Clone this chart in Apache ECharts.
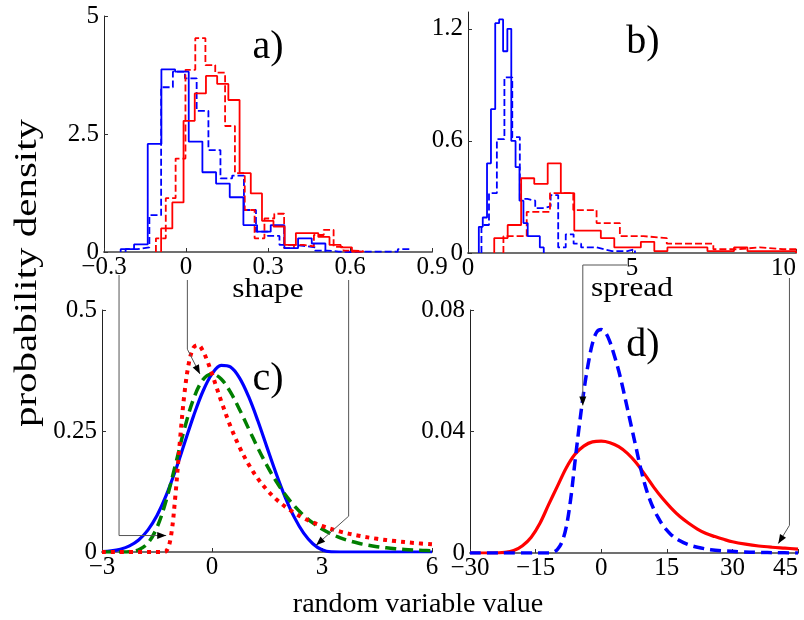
<!DOCTYPE html>
<html><head><meta charset="utf-8">
<script src="https://cdn.jsdelivr.net/npm/echarts@6/dist/echarts.min.js"></script>
<style>html,body{margin:0;padding:0;background:#fff}#c{width:804px;height:620px}</style>
</head><body><div id="c"></div>
<script>
// ---------- Panel a: shape histograms (bin edges, densities) ----------
const aBlueSolidEdges = [-0.239,-0.190,-0.140,-0.090,-0.040,0.010,0.060,0.110,0.160,0.210,0.260,0.310,0.360,0.410,0.460,0.510];
const aBlueSolidDens  = [0.06,0.16,2.29,3.87,3.82,2.34,1.69,1.45,1.16,0.57,0.43,0.57,0.08,0.29,0.18];
const aBlueDashEdges  = [-0.221,-0.178,-0.134,-0.091,-0.048,-0.004,0.039,0.082,0.126,0.169,0.212,0.256,0.299,0.342,0.386,0.429,0.472,0.515,0.559,0.602,0.645,0.689,0.732,0.775,0.818];
const aBlueDashDens   = [0.06,0.10,0.78,3.49,3.82,3.68,2.99,2.16,1.56,1.62,0.89,0.43,0.34,0.15,0.13,0.10,0.03,0.01,0.00,0.01,0.01,0.01,0.01,0.06];
const aRedSolidEdges  = [-0.091,-0.050,-0.009,0.032,0.073,0.114,0.155,0.196,0.237,0.278,0.320,0.361,0.402,0.443,0.484,0.525,0.566,0.607,0.648];
const aRedSolidDens   = [0.50,1.05,2.78,3.36,3.73,3.56,3.22,1.67,1.24,0.66,0.54,0.15,0.40,0.40,0.32,0.15,0.10,0.01];
const aRedDashEdges   = [-0.110,-0.074,-0.038,-0.002,0.034,0.071,0.107,0.143,0.179,0.215,0.251,0.287,0.323,0.359,0.395,0.431,0.468,0.504,0.540,0.576,0.612,0.648];
const aRedDashDens    = [0.29,1.14,1.98,3.86,4.53,3.96,3.80,2.67,1.67,0.89,0.29,0.71,0.81,0.08,0.15,0.12,0.36,0.47,0.11,0.03,0.02];

// ---------- Panel b: spread histograms ----------
const bBlueSolidEdges = [0.33,0.45,0.58,0.70,0.83,0.95,1.07,1.20,1.32,1.45,1.57,1.69,1.82,1.94,2.07,2.19,2.31];
const bBlueSolidDens  = [0.14,0.19,0.48,0.77,1.23,1.25,1.08,1.20,0.60,0.46,0.28,0.16,0.09,0.09,0.09,0.03];
const bBlueDashEdges  = [0.41,0.64,0.88,1.11,1.35,1.58,1.81,2.05,2.28,2.52,2.75,2.98,3.22,3.45,3.69,3.92,4.15,4.39,4.62,4.86,5.09];
const bBlueDashDens   = [0.15,0.32,0.61,0.94,0.62,0.29,0.28,0.24,0.25,0.31,0.03,0.10,0.05,0.03,0.03,0.02,0.01,0.01,0.01,0.02];
const bRedSolidEdges  = [0.80,1.21,1.62,2.02,2.43,2.83,3.24,3.65,4.05,4.46,4.86,5.27,5.68,6.08,6.49,6.89,7.30,7.71,8.11,8.52,8.93,9.33,9.74,10.0];
const bRedSolidDens   = [0.08,0.15,0.40,0.37,0.48,0.32,0.12,0.12,0.08,0.03,0.03,0.06,0.01,0.03,0.03,0.03,0.01,0.01,0.03,0.01,0.01,0.01,0.01];
const bRedDashEdges   = [1.08,1.79,2.50,3.21,3.92,4.63,5.35,6.06,6.77,7.48,8.19,8.90,9.61,10.0];
const bRedDashDens    = [0.09,0.22,0.32,0.23,0.16,0.09,0.08,0.05,0.05,0.02,0.03,0.02,0.02];

// ---------- Panel c: densities for three shape values ----------
const cX = [-3,-2.75,-2.5,-2.25,-2,-1.75,-1.5,-1.25,-1,-0.75,-0.5,-0.25,0,0.25,0.5,0.75,1,1.25,1.5,1.75,2,2.25,2.5,2.75,3,3.25,3.5,3.75,4,4.25,4.5,4.75,5,5.25,5.5,5.75,6];
const cBlue  = [0.0009,0.0024,0.0058,0.0126,0.0248,0.0452,0.0755,0.1168,0.1677,0.2246,0.2817,0.3316,0.3679,0.3856,0.3825,0.3598,0.3208,0.2711,0.2162,0.1620,0.1125,0.0710,0.0390,0.0171,0.0046,0.0002,0,0,0,0,0,0,0,0,0,0,0];
const cGreen = [0,0,0.0001,0.0007,0.0046,0.0182,0.0507,0.1065,0.1794,0.2549,0.3170,0.3556,0.3679,0.3574,0.3307,0.2945,0.2546,0.2151,0.1785,0.1460,0.1182,0.0949,0.0756,0.0600,0.0474,0.0373,0.0293,0.0230,0.0180,0.0141,0.0110,0.0086,0.0067,0.0052,0.0041,0.0032,0.0025];
const cRedX = [-3,-1.75,-1.5,-1.375,-1.25,-1.125,-1,-0.875,-0.75,-0.625,-0.5,-0.375,-0.25,-0.125,0,0.125,0.25,0.5,0.75,1,1.25,1.5,1.75,2,2.25,2.5,2.75,3,3.5,4,4.5,5,5.5,6];
const cRed  = [0,0,0,0,0.0017,0.0298,0.1151,0.2293,0.3284,0.3926,0.4228,0.4276,0.4157,0.3942,0.3679,0.3398,0.3120,0.2605,0.2167,0.1808,0.1517,0.1282,0.1090,0.0934,0.0805,0.0699,0.0611,0.0537,0.0420,0.0336,0.0273,0.0225,0.0187,0.0158];

// ---------- Panel d: densities for two spread values ----------
const dRedX = [-30,-25,-22,-20,-18,-16,-14,-12,-10,-8,-6,-4,-2,0,2,4,6,8,10,12,14,16,18,20,22,24,26,28,30,33,36,39,42,45];
const dRed  = [0,0,0.0002,0.0008,0.0024,0.0052,0.0098,0.0160,0.0220,0.0280,0.0325,0.0352,0.0366,0.0368,0.0363,0.0350,0.0328,0.0297,0.0258,0.0217,0.0180,0.0148,0.0120,0.0098,0.0079,0.0064,0.0054,0.0045,0.0037,0.0029,0.0023,0.0019,0.0016,0.0013];
const dBlueX = [-30,-12,-11,-10,-9,-8,-7,-6,-5,-4,-3,-2,-1,0,1,2,3,4,5,6,7,8,9,10,11,12,13,14,15,16,18,20,22,25,28,32,36,40,45];
const dBlue  = [0,0,0.0002,0.0012,0.0035,0.0085,0.0175,0.0300,0.0420,0.0530,0.0620,0.0690,0.0728,0.0736,0.0725,0.0695,0.0650,0.0600,0.0540,0.0475,0.0410,0.0345,0.0280,0.0225,0.0180,0.0145,0.0117,0.0093,0.0075,0.0060,0.0040,0.0027,0.0019,0.0011,0.0007,0.0004,0.0002,0.0001,0];

// ---------- Axis ticks ----------
const aXTicks = [-0.3, 0.9, 0.3];   // min, max, interval
const aYTicks = [0, 5, 2.5];
const bXTicks = [0, 10, 5];
const bYTicks = [0, 0.6, 1.2];
const bYMax = 1.29;
const cXTicks = [-3, 6, 3];
const cYTicks = [0, 0.5, 0.25];
const dXTicks = [-30, 45, 15];
const dYTicks = [0, 0.08, 0.04];

// ---------- Annotation anchors (data units) ----------
const shapeArrows = [
  { fromShape: -0.245, elbowY: 0.034, tip: [-1.25, 0.034] },
  { fromShape: 0.005,  elbowY: 0.419, tip: [-0.33, 0.368] },
  { fromShape: 0.595,  elbowY: 0.074, tip: [2.84, 0.014] }
];
const spreadArrows = [
  { startSpread: 4.85, fromSpread: 3.5, elbowY: 0.0486, tip: [-4.2, 0.0486] },
  { startSpread: null, fromSpread: 9.8, elbowY: 0.0091, tip: [40.5, 0.0031] }
];

const FONT = 'Liberation Serif';
const TICK_SIZE = 25;
function fmt(v) { const r = Math.round(v * 1e6) / 1e6; return (r < 0 ? '\u2212' : '') + Math.abs(r); }
function hist(edges, dens) {
  const pts = [[edges[0], 0]];
  for (let i = 0; i < dens.length; i++) pts.push([edges[i], dens[i]]);
  pts.push([edges[edges.length - 1], 0]);
  return pts;
}
function zip(xs, ys) { return xs.map((x, i) => [x, ys[i]]); }

function xAx(gi, t, extra) {
  return Object.assign({
    type: 'value', gridIndex: gi, min: t[0], max: t[1], interval: t[2],
    axisLine: { show: true, onZero: false, lineStyle: { color: '#707070', width: 2 } },
    axisTick: { show: true, inside: true, length: 4, lineStyle: { color: '#333', width: 1 } },
    axisLabel: { fontFamily: FONT, fontSize: TICK_SIZE, color: '#000', margin: 3, formatter: fmt },
    splitLine: { show: false }
  }, extra || {});
}
function yAx(gi, t, extra) {
  return Object.assign({
    type: 'value', gridIndex: gi, min: t[0], max: t[1], interval: t[2],
    axisLine: { show: true, onZero: false, lineStyle: { color: '#222', width: 1 } },
    axisTick: { show: true, inside: true, length: 4, lineStyle: { color: '#333', width: 1 } },
    axisLabel: { fontFamily: FONT, fontSize: TICK_SIZE, color: '#000', margin: 5, formatter: fmt },
    splitLine: { show: false }
  }, extra || {});
}
function histSeries(idx, edges, dens, color, dashed) {
  return { type: 'line', xAxisIndex: idx, yAxisIndex: idx, data: hist(edges, dens), step: 'end',
    showSymbol: false, symbol: 'none', silent: true,
    lineStyle: { color: color, width: 1.8, type: dashed ? [7, 3] : 'solid' } };
}
function curve(idx, xs, ys, color, width, type, z) {
  return { type: 'line', xAxisIndex: idx, yAxisIndex: idx, data: zip(xs, ys), smooth: 0.35,
    showSymbol: false, symbol: 'none', silent: true, z: z,
    lineStyle: { color: color, width: width, type: type, cap: 'butt', join: 'round' } };
}

const chart = echarts.init(document.getElementById('c'), null, { renderer: 'canvas' });
chart.setOption({
  animation: false,
  backgroundColor: '#fff',
  grid: [
    { left: 104, top: 16, width: 328, height: 236, outerBoundsMode: 'none' },
    { left: 468, top: 12, width: 328, height: 241, outerBoundsMode: 'none' },
    { left: 102, top: 310, width: 330, height: 242, outerBoundsMode: 'none' },
    { left: 470, top: 310, width: 328, height: 243, outerBoundsMode: 'none' }
  ],
  xAxis: [
    xAx(0, aXTicks),
    xAx(1, bXTicks, {}),
    xAx(2, cXTicks),
    xAx(3, dXTicks)
  ],
  yAxis: [
    yAx(0, aYTicks),
    yAx(1, [bYTicks[0], bYMax, null]),
    yAx(2, cYTicks),
    yAx(3, dYTicks)
  ],
  series: [
    histSeries(0, aBlueDashEdges, aBlueDashDens, '#0000ff', true),
    histSeries(0, aRedDashEdges, aRedDashDens, '#ff0000', true),
    histSeries(0, aBlueSolidEdges, aBlueSolidDens, '#0000ff', false),
    histSeries(0, aRedSolidEdges, aRedSolidDens, '#ff0000', false),
    histSeries(1, bBlueDashEdges, bBlueDashDens, '#0000ff', true),
    histSeries(1, bRedDashEdges, bRedDashDens, '#ff0000', true),
    histSeries(1, bBlueSolidEdges, bBlueSolidDens, '#0000ff', false),
    histSeries(1, bRedSolidEdges, bRedSolidDens, '#ff0000', false),
    curve(2, cX, cBlue, '#0000ff', 3.2, 'solid', 3),
    curve(2, cX, cGreen, '#007f00', 3.5, [11, 6], 4),
    curve(2, cRedX, cRed, '#ff0000', 4, [4, 5], 5),
    curve(3, dRedX, dRed, '#ff0000', 3.2, 'solid', 3),
    curve(3, dBlueX, dBlue, '#0000ff', 3.5, [11, 6], 4)
  ]
});
// b's y ticks at 0, 0.6, 1.2 only
chart.setOption({ yAxis: [{}, {
  axisLabel: { customValues: bYTicks }, axisTick: { customValues: bYTicks }
}, {}, {}], xAxis: [{}, { axisLabel: { alignMaxLabel: 'right' } }, {}, { axisLabel: { alignMaxLabel: 'right' } }] });

function px(i, pt) { return chart.convertToPixel({ xAxisIndex: i, yAxisIndex: i }, pt); }
function head(tip, from) {
  const dx = tip[0] - from[0], dy = tip[1] - from[1];
  const L = Math.hypot(dx, dy) || 1, ux = dx / L, uy = dy / L;
  const len = 9, w = 3.5;
  const bx = tip[0] - ux * len, by = tip[1] - uy * len;
  return { type: 'polygon', silent: true, z: 100,
    shape: { points: [tip, [bx - uy * w, by + ux * w], [bx + uy * w, by - ux * w]] },
    style: { fill: '#000', stroke: null } };
}
function poly(points) {
  return { type: 'polyline', silent: true, z: 99, shape: { points: points },
    style: { stroke: '#555', lineWidth: 1, fill: null } };
}
const g = [];
const aAxisY = px(0, [0, 0])[1];
shapeArrows.forEach((a, k) => {
  const x = px(0, [a.fromShape, 0])[0];
  const y0 = aAxisY + (k === 0 ? 23 : 28);
  const yE = px(2, [0, a.elbowY])[1];
  const tip = px(2, a.tip);
  g.push(poly([[x, y0], [x, yE], tip]));
  g.push(head(tip, [x, yE]));
});
const bAxisY = px(1, [0, 0])[1];
spreadArrows.forEach((a) => {
  const x = px(1, [a.fromSpread, 0])[0];
  const yE = px(3, [0, a.elbowY])[1];
  const tip = px(3, a.tip);
  if (a.startSpread !== null) {
    const xs = px(1, [a.startSpread, 0])[0];
    const y0 = bAxisY + 12;
    g.push(poly([[xs, y0], [x, y0], [x, yE]]));
    g.push(head([x, yE], [x, y0]));
  } else {
    const y0 = bAxisY + 25;
    g.push(poly([[x, y0], [x, yE], tip]));
    g.push(head(tip, [x, yE]));
  }
});
function txt(s, x, y, size, rot, sx) {
  return { type: 'text', x: x, y: y, rotation: rot || 0, scaleX: sx || 1, silent: true, z: 50,
    style: { text: s, fontFamily: FONT, fontSize: size, fill: '#000', align: 'center', verticalAlign: 'middle' } };
}
g.push(txt('a)', 268, 47, 40));
g.push(txt('b)', 643, 42, 40));
g.push(txt('c)', 268, 379, 40));
g.push(txt('d)', 643, 345, 40));
g.push(txt('shape', 268, 290, 28, 0, 1.12));
g.push(txt('spread', 632, 289, 28, 0, 1.12));
g.push(txt('random variable value', 418, 605, 28));
g.push(txt('probability density', 28, 273, 31, Math.PI / 2, 1.32));
chart.setOption({ graphic: g });
</script></body></html>
